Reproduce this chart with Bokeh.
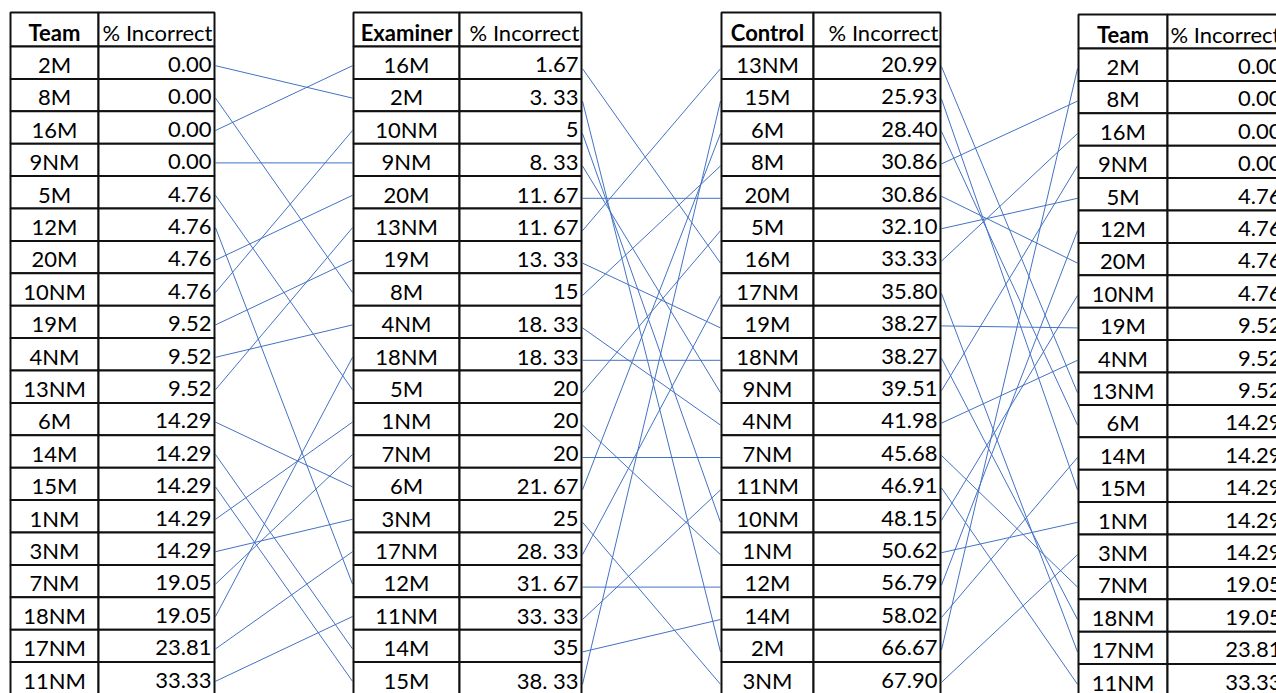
from bokeh.plotting import figure
from bokeh.models import Range1d, ColumnDataSource
from bokeh.core.properties import value
from bokeh.embed import file_html
from bokeh.resources import INLINE

# ---------------- data ----------------
team_names = ["2M", "8M", "16M", "9NM", "5M", "12M", "20M", "10NM", "19M", "4NM",
              "13NM", "6M", "14M", "15M", "1NM", "3NM", "7NM", "18NM", "17NM", "11NM"]
team_values = [0.00, 0.00, 0.00, 0.00, 4.76, 4.76, 4.76, 4.76, 9.52, 9.52,
               9.52, 14.29, 14.29, 14.29, 14.29, 14.29, 19.05, 19.05, 23.81, 33.33]

examiner_names = ["16M", "2M", "10NM", "9NM", "20M", "13NM", "19M", "8M", "4NM", "18NM",
                  "5M", "1NM", "7NM", "6M", "3NM", "17NM", "12M", "11NM", "14M", "15M"]
examiner_labels = ["1.67", "3. 33", "5", "8. 33", "11. 67", "11. 67", "13. 33", "15", "18. 33", "18. 33",
                   "20", "20", "20", "21. 67", "25", "28. 33", "31. 67", "33. 33", "35", "38. 33"]

control_names = ["13NM", "15M", "6M", "8M", "20M", "5M", "16M", "17NM", "19M", "18NM",
                 "9NM", "4NM", "7NM", "11NM", "10NM", "1NM", "12M", "14M", "2M", "3NM"]
control_values = [20.99, 25.93, 28.40, 30.86, 30.86, 32.10, 33.33, 35.80, 38.27, 38.27,
                  39.51, 41.98, 45.68, 46.91, 48.15, 50.62, 56.79, 58.02, 66.67, 67.90]

headers = ["Team", "Examiner", "Control", "Team"]
value_header = "% Incorrect"

# ---------------- layout ----------------
W, H = 1276, 693
FONT = value("Lato")
FS = "22px"
ROW_H = 32.4
HEAD_H = 34
LINE_COLOR = "#4472C4"

tables = [
    dict(title=headers[0], names=team_names, labels=["%.2f" % v for v in team_values],
         left=10, div=98, right=214, top=12),
    dict(title=headers[1], names=examiner_names, labels=examiner_labels,
         left=353, div=459, right=581, top=12),
    dict(title=headers[2], names=control_names, labels=["%.2f" % v for v in control_values],
         left=721, div=813, right=940, top=12),
    dict(title=headers[3], names=team_names, labels=["%.2f" % v for v in team_values],
         left=1078, div=1167, right=1284, top=14),
]
gap_offsets = [3, 6, 4]

p = figure(width=W, height=H, x_range=Range1d(0, W), y_range=Range1d(H, 0),
           output_backend="svg", toolbar_location=None, min_border=0,
           x_axis_location=None, y_axis_location=None)
p.grid.visible = False
p.outline_line_color = None
p.background_fill_color = "white"
p.border_fill_color = "white"

def row_top(t, i):
    return t["top"] + HEAD_H + i * ROW_H

# connecting lines
for g in range(3):
    a, b = tables[g], tables[g + 1]
    off = gap_offsets[g]
    x0, y0, x1, y1 = [], [], [], []
    for i, nm in enumerate(a["names"]):
        j = b["names"].index(nm)
        x0.append(a["right"] + 1)
        y0.append(row_top(a, i) + ROW_H / 2 + off)
        x1.append(b["left"] - 1)
        y1.append(row_top(b, j) + ROW_H / 2 + off)
    p.segment(x0=x0, y0=y0, x1=x1, y1=y1, line_color=LINE_COLOR, line_width=1)

# tables
for t in tables:
    n = len(t["names"])
    lefts, rights, tops, bottoms = [], [], [], []
    lefts += [t["left"], t["div"]]
    rights += [t["div"], t["right"]]
    tops += [t["top"], t["top"]]
    bottoms += [t["top"] + HEAD_H] * 2
    for i in range(n):
        rt = row_top(t, i)
        lefts += [t["left"], t["div"]]
        rights += [t["div"], t["right"]]
        tops += [rt, rt]
        bottoms += [rt + ROW_H, rt + ROW_H]
    p.quad(left=lefts, right=rights, top=tops, bottom=bottoms,
           fill_color="white", line_color="#111111", line_width=2)

    # header texts
    hy = t["top"] + 19.5
    p.text(x=[(t["left"] + t["div"]) / 2], y=[hy], text=[t["title"]],
           text_font=FONT, text_font_size=FS, text_font_style="bold",
           text_align="center", text_baseline="middle", text_color="black")
    if t["right"] > W:
        p.text(x=[t["div"] + 3], y=[hy], text=[value_header],
               text_font=FONT, text_font_size=FS, text_align="left",
               text_baseline="middle", text_color="black")
    else:
        p.text(x=[t["right"] - 2], y=[hy], text=[value_header],
               text_font=FONT, text_font_size=FS, text_align="right",
               text_baseline="middle", text_color="black")

    # row texts
    ys = [row_top(t, i) + 18.0 for i in range(n)]
    src = ColumnDataSource(dict(
        xn=[(t["left"] + t["div"]) / 2] * n,
        xv=[t["right"] - 3] * n,
        y=ys, name=t["names"], lab=t["labels"]))
    p.text(x="xn", y="y", text="name", source=src, text_font=FONT, text_font_size=FS,
           text_align="center", text_baseline="middle", text_color="black")
    p.text(x="xv", y="y", text="lab", source=src, text_font=FONT, text_font_size=FS,
           text_align="right", text_baseline="middle", text_color="black")

open("out.html", "w").write(file_html(p, INLINE))
